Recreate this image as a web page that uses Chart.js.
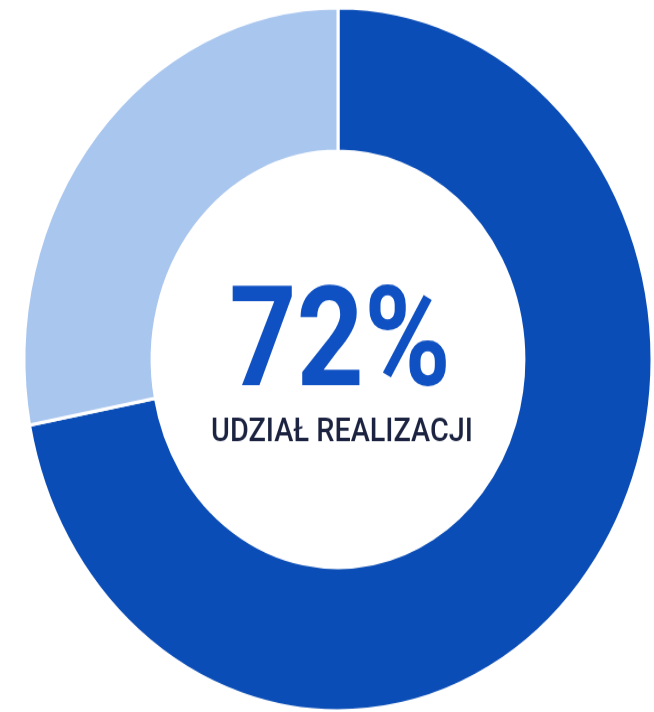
<!DOCTYPE html>
<html lang="pl">
  <head>
    <meta charset="utf-8" />
    <title>Udział realizacji</title>
    <script src="https://cdn.jsdelivr.net/npm/chart.js/dist/chart.umd.min.js"></script>
    <style>
      html, body { margin: 0; padding: 0; background: #ffffff; overflow: hidden; }
      #chart { display: block; }
    </style>
  </head>
  <body>
    <!-- drawn shorter, shown stretched to the page height like the reference -->
    <canvas id="chart" width="654" height="636" style="width: 654px; height: 712px"></canvas>
    <script>
      // data
      const labels = ["Zrealizowane", "Pozostałe"];
      const values = [72, 28];
      const colors = ["#0b4db6", "#a9c6ef"];
      const centerLabel = "UDZIAŁ REALIZACJI";

      const total = values.reduce((a, b) => a + b, 0);
      const centerValue = Math.round((values[0] / total) * 100) + "%";

      // draws the percentage and caption in the hole
      const centerText = {
        id: "centerText",
        afterDraw(chart) {
          const { ctx } = chart;
          const arc = chart.getDatasetMeta(0).data[0];
          const cx = arc.x;
          const cy = arc.y;
          ctx.save();
          ctx.textAlign = "center";
          ctx.textBaseline = "alphabetic";

          ctx.save();
          ctx.translate(cx + 2, cy + 23);
          ctx.scale(0.94, 1);
          ctx.fillStyle = "#0f50c2";
          ctx.font = "bold 125px Roboto";
          ctx.fillText(centerValue, 0, 0);
          ctx.restore();

          ctx.save();
          ctx.translate(cx + 4, cy + 73);
          ctx.scale(0.96, 1);
          ctx.fillStyle = "#1b2340";
          ctx.font = "500 30px Roboto";
          ctx.fillText(centerLabel, 0, 0);
          ctx.restore();

          ctx.restore();
        },
      };

      new Chart(document.getElementById("chart"), {
        type: "doughnut",
        data: {
          labels: labels,
          datasets: [
            {
              data: values,
              backgroundColor: colors,
              borderColor: "#ffffff",
              borderWidth: 3,
              hoverOffset: 0,
            },
          ],
        },
        options: {
          responsive: false,
          animation: false,
          radius: 314,
          cutout: 185,
          layout: { padding: { left: 24, right: 2, top: 7, bottom: 1 } },
          plugins: {
            legend: { display: false },
            tooltip: { enabled: false },
          },
        },
        plugins: [centerText],
      });
    </script>
  </body>
</html>
